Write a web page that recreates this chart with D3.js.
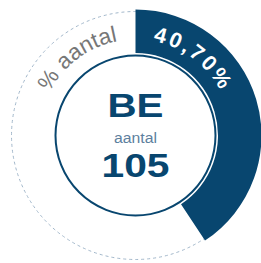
<!DOCTYPE html>
<html>
<head>
<meta charset="utf-8">
<script src="https://cdn.jsdelivr.net/npm/d3@7"></script>
<style>
  html, body { margin: 0; padding: 0; background: #fff; }
  text { font-family: "Liberation Sans", Arial, sans-serif; }
</style>
</head>
<body>
<div id="chart"></div>
<script>
const width = 261
const height = 263

// data
const region = "BE"
const countLabel = "aantal"
const count = 105
const shareLabel = "% aantal"
const shares = [40.70, 59.30]          // BE share, rest
const sliceColors = ["#08466f", "none"]

const cx = 135.5, cy = 135.5
const outerR = 126, innerR = 82.5, circleR = 80, dashR = 124

const svg = d3.select("#chart")
  .append("svg")
  .attr("width", width)
  .attr("height", height)

const g = svg.append("g").attr("transform", `translate(${cx},${cy})`)

// dashed outer ring
g.append("circle")
  .attr("r", dashR)
  .attr("fill", "none")
  .attr("stroke", "#a3b8cb")
  .attr("stroke-width", 1)
  .attr("stroke-dasharray", "3,3")

const pie = d3.pie().sort(null)
const arc = d3.arc().innerRadius(innerR).outerRadius(outerR)

g.selectAll("path.slice")
  .data(pie(shares))
  .enter()
  .append("path")
  .attr("class", "slice")
  .attr("d", arc)
  .attr("fill", (d, i) => sliceColors[i])

// inner circle
g.append("circle")
  .attr("r", circleR)
  .attr("fill", "#fff")
  .attr("stroke", "#08466f")
  .attr("stroke-width", 2)

// curved text paths (angles in degrees clockwise from top), absolute coords
const textR = 96
function arcPath(a0, a1, r) {
  const p = a => [cx + r * Math.sin(a * Math.PI / 180), cy - r * Math.cos(a * Math.PI / 180)]
  const s = p(a0), e = p(a1)
  return `M${s[0]},${s[1]} A${r},${r} 0 0 1 ${e[0]},${e[1]}`
}

const defs = svg.append("defs")
defs.append("path").attr("id", "leftArc").attr("d", arcPath(-80, 6, textR))
defs.append("path").attr("id", "rightArc").attr("d", arcPath(-7, 81, textR))

const pct = shares[0].toFixed(2).replace(".", ",") + "%"

svg.append("text")
  .attr("font-size", 22.5)
  .attr("fill", "#777")
  .append("textPath")
  .attr("href", "#leftArc")
  .attr("startOffset", "50%")
  .attr("text-anchor", "middle")
  .text(shareLabel)

svg.append("text")
  .attr("font-size", 21.5)
  .attr("font-weight", "bold")
  .attr("letter-spacing", 2.6)
  .attr("fill", "#fff")
  .append("textPath")
  .attr("href", "#rightArc")
  .attr("startOffset", "50%")
  .attr("text-anchor", "middle")
  .text(pct)

// center labels
g.append("text")
  .attr("y", 116.5 - cy)
  .attr("text-anchor", "middle")
  .attr("font-size", 33)
  .attr("font-weight", "bold")
  .attr("fill", "#08466f")
  .attr("textLength", 56)
  .attr("lengthAdjust", "spacingAndGlyphs")
  .text(region)

g.append("text")
  .attr("y", 143 - cy)
  .attr("text-anchor", "middle")
  .attr("font-size", 14)
  .attr("fill", "#5d809e")
  .attr("textLength", 43)
  .attr("lengthAdjust", "spacingAndGlyphs")
  .text(countLabel)

g.append("text")
  .attr("y", 177 - cy)
  .attr("text-anchor", "middle")
  .attr("font-size", 32.5)
  .attr("font-weight", "bold")
  .attr("fill", "#08466f")
  .attr("textLength", 68)
  .attr("lengthAdjust", "spacingAndGlyphs")
  .text(count)
</script>
</body>
</html>
